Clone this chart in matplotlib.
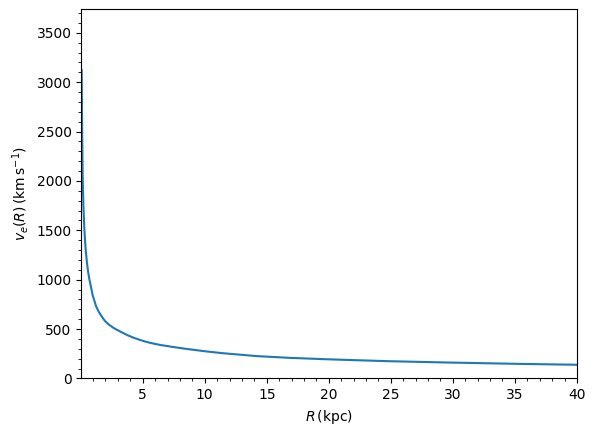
import matplotlib
matplotlib.use("Agg")
import matplotlib.pyplot as plt
from matplotlib.ticker import MultipleLocator

# galactocentric radius (kpc) and escape speed (km/s)
R_kpc = [0.08, 0.12, 0.16, 0.22, 0.3, 0.4, 0.5, 0.6, 0.7, 0.8, 0.97, 1.24,
         1.45, 1.65, 1.85, 2.0, 2.32, 2.7, 3.12, 3.4, 3.79, 4.3, 4.87, 5.2,
         5.6, 6.0, 6.49, 7.0, 7.4, 8.5, 10.0, 11.46, 14.16, 16.84, 19.53,
         22.23, 24.9, 29.5, 34.9, 40.0]
v_esc = [3125, 2500, 2050, 1750, 1500, 1310, 1180, 1080, 1005, 945, 842, 732,
         677, 637, 600, 577, 541, 508, 480, 462, 438, 411, 387, 374,
         361, 350, 338, 328, 320, 300, 276, 256, 227, 209, 196,
         185, 175, 162, 149, 139]

fig = plt.figure(figsize=(5.96, 4.36), dpi=100)
ax = fig.add_axes([0.1364, 0.1319, 0.968 - 0.1364, 0.979 - 0.1319])

ax.plot(R_kpc, v_esc)

ax.set_xlim(0.05, 40)
ax.set_ylim(0, 3740)
ax.xaxis.set_minor_locator(MultipleLocator(1))
ax.yaxis.set_minor_locator(MultipleLocator(100))

ax.set_xlabel(r"$R\,(\mathrm{kpc})$")
ax.set_ylabel(r"$v_e(R)\,(\mathrm{km\,s^{-1}})$")

fig.savefig("out.png", dpi=100)
